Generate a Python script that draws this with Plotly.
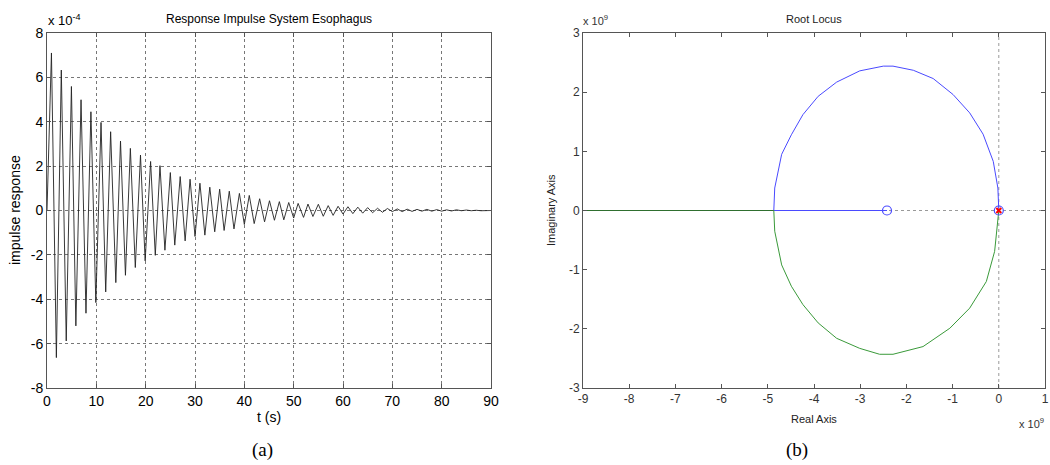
import plotly.graph_objects as go

# ---------------- data: (a) impulse response (values in units of 1e-4) -------------
t_s = [0, 0.9, 1.9, 2.9, 3.9, 4.95, 5.85, 6.9, 7.9, 8.9, 9.9, 10.95, 11.9, 12.9, 13.95,
       14.9, 15.9, 16.9, 17.9, 18.95, 19.9, 21.0, 21.95, 22.9, 23.9, 25.0, 25.9, 27.0,
       28.0, 29.0, 30.0, 31.0, 32.0, 33.0, 34.0, 35.0, 35.9, 36.95, 37.9, 39.0, 40.0,
       41.0, 42.0, 43.1, 44.1, 45.1, 46.1, 47.1, 48.0, 49.0, 50.0, 50.9, 52.0, 52.9,
       53.9, 55.0, 56.0, 57.0, 58.0, 59.0, 60.0, 61.0, 62.0, 63.0, 64.0, 65.0, 66.0,
       67.0, 68.0, 69.0, 70.0, 71.0, 72.0, 73.0, 74.0, 75.0, 76.0, 77.0, 78.0, 79.0,
       80.0, 81.0, 82.0, 83.0, 84.0, 85.0, 86.0, 87.0, 88.0, 89.0, 90.0]
impulse_e4 = [0, 7.10, -6.63, 6.33, -5.88, 5.59, -5.20, 4.99, -4.63, 4.45, -4.15, 3.97,
              -3.67, 3.55, -3.25, 3.13, -2.92, 2.80, -2.57, 2.50, -2.27, 2.21, -2.02, 2.02,
              -1.79, 1.71, -1.56, 1.53, -1.37, 1.41, -1.17, 1.23, -1.11, 1.05, -0.96, 0.96,
              -0.90, 0.87, -0.83, 0.77, -0.63, 0.68, -0.59, 0.53, -0.51, 0.44, -0.44, 0.40,
              -0.42, 0.36, -0.34, 0.32, -0.31, 0.29, -0.27, 0.28, -0.26, 0.22, -0.22, 0.19,
              -0.16, 0.17, -0.14, 0.15, -0.12, 0.13, -0.10, 0.10, -0.08, 0.09, -0.05, 0.07,
              -0.05, 0.06, -0.04, 0.05, -0.03, 0.05, -0.03, 0.04, -0.03, 0.03, -0.02, 0.03,
              -0.01, 0.02, -0.01, 0.01, -0.01, 0.01, 0.0]
a_xticks = [0, 10, 20, 30, 40, 50, 60, 70, 80, 90]
a_yticks = [-8, -6, -4, -2, 0, 2, 4, 6, 8]

# ---------------- data: (b) root locus (units of 1e9) ------------------------------
upper_re = [0, -0.02, -0.12, -0.34, -0.63, -0.99, -1.42, -1.85, -2.29, -2.50, -3.01,
            -3.51, -3.91, -4.24, -4.49, -4.70, -4.85, -4.87]
upper_im = [0, 0.38, 0.83, 1.29, 1.65, 1.96, 2.23, 2.37, 2.44, 2.44, 2.36, 2.17, 1.93,
            1.62, 1.28, 0.95, 0.38, 0]
real_seg_blue_re = [-4.87, -2.42]
lower_re = [0, -0.09, -0.27, -0.63, -1.06, -1.64, -2.29, -2.58, -3.01, -3.51, -3.91,
            -4.24, -4.49, -4.70, -4.85, -4.87]
lower_im = [0, -0.69, -1.20, -1.65, -1.99, -2.30, -2.43, -2.43, -2.33, -2.16, -1.90,
            -1.59, -1.28, -0.92, -0.35, 0]
real_seg_green_re = [-9, -4.87]
zeros_re = [-2.42, 0]
poles_re = [0]
b_xticks = [-9, -8, -7, -6, -5, -4, -3, -2, -1, 0, 1]
b_yticks = [-3, -2, -1, 0, 1, 2, 3]

W, H = 1050, 465
def px(x): return x / W
def py(y): return 1 - y / H
def labels(vals): return [str(v) for v in vals]  # plain hyphen minus, as in MATLAB

fig = go.Figure()
fig.add_trace(go.Scatter(x=t_s, y=impulse_e4, mode="lines",
                         line=dict(color="#222222", width=0.9),
                         xaxis="x", yaxis="y", showlegend=False, hoverinfo="skip"))

blue = "#4a4aff"
green = "#3a9a3a"
fig.add_trace(go.Scatter(x=upper_re, y=upper_im, mode="lines", line=dict(color=blue, width=1),
                         xaxis="x2", yaxis="y2", showlegend=False))
fig.add_trace(go.Scatter(x=real_seg_blue_re, y=[0, 0], mode="lines", line=dict(color=blue, width=1),
                         xaxis="x2", yaxis="y2", showlegend=False))
fig.add_trace(go.Scatter(x=lower_re, y=lower_im, mode="lines", line=dict(color=green, width=1),
                         xaxis="x2", yaxis="y2", showlegend=False))
fig.add_trace(go.Scatter(x=real_seg_green_re, y=[0, 0], mode="lines", line=dict(color="#2f6f2f", width=1),
                         xaxis="x2", yaxis="y2", showlegend=False))
fig.add_trace(go.Scatter(x=zeros_re, y=[0] * len(zeros_re), mode="markers",
                         marker=dict(symbol="circle-open", size=9, color=blue, line=dict(width=1.2)),
                         xaxis="x2", yaxis="y2", showlegend=False))
fig.add_trace(go.Scatter(x=poles_re, y=[0] * len(poles_re), mode="markers",
                         marker=dict(symbol="x-thin-open", size=5, color="red", line=dict(width=2, color="red")),
                         xaxis="x2", yaxis="y2", showlegend=False))

font_sans = "Liberation Sans, Arial, sans-serif"
axcommon = dict(showline=True, linecolor="#555555", linewidth=1, mirror="ticks",
                ticks="inside", ticklen=4, tickcolor="#555555", zeroline=False,
                automargin=False, tickmode="array")

fig.update_layout(
    width=W, height=H, margin=dict(l=0, r=0, t=0, b=0, pad=0, autoexpand=False),
    paper_bgcolor="white", plot_bgcolor="white",
    font=dict(family=font_sans, color="black"),
    xaxis=dict(domain=[px(47), px(491)], range=[0, 90], tickvals=a_xticks, ticktext=labels(a_xticks),
               showgrid=True, gridcolor="#777777", griddash="dot", gridwidth=1,
               tickfont=dict(size=14, color="black"), anchor="y", **axcommon),
    yaxis=dict(domain=[py(388), py(33)], range=[-8, 8], tickvals=a_yticks, ticktext=labels(a_yticks),
               showgrid=True, gridcolor="#777777", griddash="dot", gridwidth=1,
               tickfont=dict(size=14, color="black"), anchor="x", **axcommon),
    xaxis2=dict(domain=[px(583), px(1045)], range=[-9, 1], tickvals=b_xticks, ticktext=labels(b_xticks),
                showgrid=False, tickfont=dict(size=12, color="#333333"), anchor="y2", **axcommon),
    yaxis2=dict(domain=[py(388), py(33)], range=[-3, 3], tickvals=b_yticks, ticktext=labels(b_yticks),
                showgrid=False, tickfont=dict(size=12, color="#333333"), anchor="x2", **axcommon),
)

# dotted axis lines in root locus
fig.add_shape(type="line", xref="x2", yref="y2", x0=-9, x1=1, y0=0, y1=0,
              line=dict(color="#999999", width=1, dash="dot"), layer="below")
fig.add_shape(type="line", xref="x2", yref="y2", x0=0, x1=0, y0=-3, y1=3,
              line=dict(color="#999999", width=1, dash="dot"), layer="below")

def ann(text, x, y, size, color="black", family=font_sans, angle=0, xanchor="center", yanchor="middle"):
    fig.add_annotation(text=text, x=px(x), y=py(y), xref="paper", yref="paper", showarrow=False,
                       font=dict(size=size, color=color, family=family), textangle=angle,
                       xanchor=xanchor, yanchor=yanchor)

ann("Response Impulse System Esophagus", 269, 19, 12)
ann("x 10<sup>-4</sup>", 46, 20, 13, xanchor="left")
ann("impulse response", 15, 210, 14, angle=-90)
ann("t (s)", 269, 417, 14)
ann("(a)", 262, 450, 19, family="Liberation Serif, Times New Roman, serif")

ann("Root Locus", 814, 19, 11, color="#222222")
ann("x 10<sup>9</sup>", 581, 20, 11, color="#333333", xanchor="left")
ann("Imaginary Axis", 551, 210, 11, color="#222222", angle=-90)
ann("Real Axis", 814, 419, 11, color="#222222")
ann("x 10<sup>9</sup>", 1046, 423, 11, color="#333333", xanchor="right")
ann("(b)", 797, 450, 19, family="Liberation Serif, Times New Roman, serif")

fig.write_html("out.html", config={"displayModeBar": False},
               post_script="document.body.style.margin='0';")
